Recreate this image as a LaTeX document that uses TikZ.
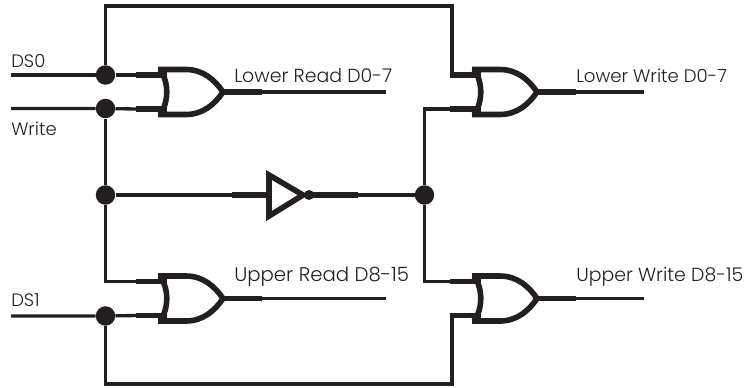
\documentclass[tikz,border=0pt]{standalone}
\usepackage{fontspec}
\setmainfont{Poppins Light}
\begin{document}
\begin{tikzpicture}[x=0.75pt,y=-0.75pt,
  wire/.style={line width=2.5pt,draw=ink,line cap=butt,line join=miter},
  pin/.style={line width=4.4pt,draw=ink,line cap=butt},
  dot/.style={circle,fill=ink,draw=none,minimum size=14.6pt,inner sep=0pt},
  lab/.style={anchor=base west,inner sep=0pt,text=ink,font=\fontsize{#1pt}{16pt}\selectfont},
  lab/.default=14.2,
  sig/.style={anchor=base west,inner sep=0pt,text=ink,font=\fontsize{13.5pt}{16pt}\selectfont},
  orgate/.pic={
    \coordinate (-a) at (-24,-17);
    \coordinate (-ai) at (7,-17);
    \coordinate (-b) at (-24,17);
    \coordinate (-bi) at (7,17);
    \coordinate (-o) at (64,0);
    \coordinate (-p) at (102,0);
    \draw[pin] (-a) -- (-ai);
    \draw[pin] (-b) -- (-bi);
    \draw[line width=4.2pt,draw=ink,line join=miter]
      (-2,-22.5) -- (26,-22.5) .. controls (43,-22.5) and (55,-12) .. (63,0)
      .. controls (55,12) and (43,22.5) .. (26,22.5) -- (-2,22.5);
    \draw[line width=4.2pt,draw=ink] (0,-22.5) .. controls (9,-10) and (9,10) .. (0,22.5);
    \draw[pin] (-o) -- (-p);
  }]
\definecolor{ink}{HTML}{231F20}
\useasboundingbox (0,0) rectangle (749,387);
% gates
\pic (ga) at (160,92) {orgate};
\pic (gb) at (474,92) {orgate};
\pic (gc) at (160,298.5) {orgate};
\pic (gd) at (474,298.5) {orgate};
% junctions
\node[dot] (j1) at (105.5,75) {};
\node[dot] (j2) at (105.5,108.5) {};
\node[dot] (j3) at (105.5,195) {};
\node[dot] (j4) at (105.5,316) {};
\node[dot] (j5) at (424.5,195) {};
% free ends and corners
\coordinate (ds0) at (11,75);
\coordinate (wr) at (11,108.5);
\coordinate (ds1) at (11,316);
\coordinate (tl) at (105.5,6);
\coordinate (tr) at (452,6);
\coordinate (bl) at (105.5,384);
\coordinate (br) at (452,384);
\coordinate (ea) at (386,92);
\coordinate (eb) at (644,92);
\coordinate (ec) at (386,298.5);
\coordinate (ed) at (644,298.5);
% inverter
\coordinate (invA) at (232,195);
\coordinate (invB) at (267,195);
\coordinate (invC) at (310,195);
\coordinate (invD) at (358,195);
\draw[pin] (invA) -- (invB);
\draw[pin] (invC) -- (invD);
\draw[line width=4.2pt,draw=ink,line join=miter] (269,175) -- (303,195) -- (269,216) -- cycle;
\node[circle,fill=ink,minimum size=7.5pt,inner sep=0pt] (bub) at (309,195) {};
% wires
\draw[wire] (ds0) -- (j1) -- (ga-a);
\draw[wire] (wr) -- (j2) -- (ga-b);
\draw[wire] (ds1) -- (j4) -- (gc-b);
\draw[wire] (ga-p) -- (ea);
\draw[wire] (gb-p) -- (eb);
\draw[wire] (gc-p) -- (ec);
\draw[wire] (gd-p) -- (ed);
\draw[wire] (j2) -- (j3);
\draw[wire] (j3) |- (gc-a);
\draw[wire] (j1) -- (tl) -- (tr) |- (gb-a);
\draw[wire] (j4) -- (bl) -- (br) |- (gd-b);
\draw[wire] (j3) -- (invA);
\draw[wire] (invD) -- (j5);
\draw[wire] (gb-b) -| (j5);
\draw[wire] (gd-a) -| (j5);
% labels
\node[sig] (t1) at (11,67) {DS0};
\node[sig] (t2) at (11,135) {Write};
\node[sig] (t3) at (11,306.5) {DS1};
\node[lab=14.2] (t4) at (234,82.5) {Lower Read D0-7};
\node[lab=13.6] (t5) at (576,82.5) {Lower Write D0-7};
\node[lab=14.8] (t6) at (234,281.5) {Upper Read D8-15};
\node[lab=14.2] (t7) at (576,281.5) {Upper Write D8-15};
\end{tikzpicture}
\end{document}
